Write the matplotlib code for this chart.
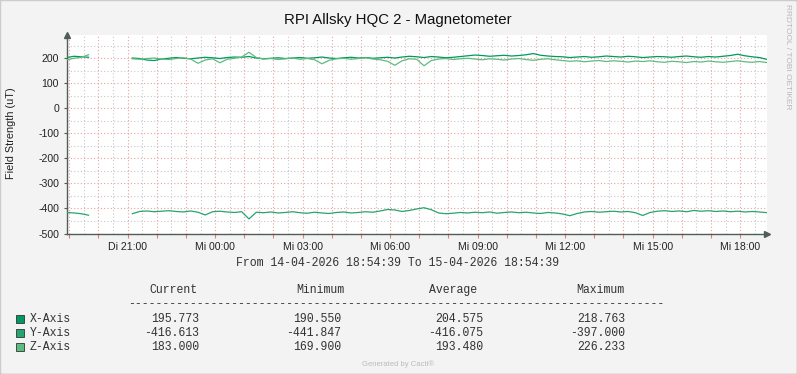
import matplotlib.pyplot as plt
import matplotlib.dates as mdates
import numpy as np
import pandas as pd
from matplotlib.patches import Rectangle
from matplotlib.lines import Line2D

# samples every 15 minutes from 14-04-2026 18:54:39, gap with no data 20:40 - 21:10
nan = np.nan
x_axis = [203, 208, 206, 204,
          nan, nan, nan, nan, nan,
          201, 199, 193, 191, 197, 200, 203, 200, 198, 201,
          204, 202, 199, 203, 205, 204, 207, 201, 198, 200,
          202, 199, 201, 203, 200, 202, 205, 201, 199, 202,
          204, 201, 203, 200, 202, 204, 201, 205, 208, 206,
          203, 207, 205, 202, 204, 207, 210, 213, 211, 208,
          210, 212, 209, 211, 214, 218.8, 212, 209, 207, 206,
          203, 205, 207, 204, 206, 209, 207, 205, 208, 206,
          203, 205, 207, 206, 204, 207, 209, 206, 204, 207,
          205, 208, 211, 216, 210, 206, 203, 195.8]
y_axis = [-416, -418, -421, -427,
          nan, nan, nan, nan, nan,
          -421, -412, -410, -413, -411, -409, -412, -414, -410, -415,
          -426, -413, -411, -414, -416, -413, -441.8, -415, -417, -414,
          -418, -416, -413, -417, -419, -415, -418, -420, -416, -414,
          -418, -416, -413, -415, -410, -404, -406, -412, -408, -402,
          -397, -405, -418, -421, -419, -416, -418, -415, -417, -414,
          -419, -416, -414, -417, -415, -418, -420, -416, -418, -422,
          -429, -420, -414, -412, -415, -413, -411, -414, -412, -417,
          -428, -416, -411, -409, -412, -410, -413, -408, -411, -409,
          -412, -410, -413, -411, -414, -412, -414, -416.6]
z_axis = [194, 200, 204, 214,
          nan, nan, nan, nan, nan,
          198, 196, 199, 201, 197, 195, 199, 202, 197, 180,
          193, 198, 182, 196, 200, 205, 224, 203, 197, 199,
          195, 198, 201, 196, 199, 194, 178, 192, 198, 200,
          196, 199, 202, 197, 194, 188, 172, 190, 198, 196,
          170, 191, 197, 199, 195, 198, 200, 197, 194, 198,
          196, 193, 197, 199, 195, 192, 196, 198, 194, 191,
          188, 190, 186, 189, 191, 187, 190, 188, 185, 189,
          187, 190, 186, 184, 188, 186, 183, 187, 185, 189,
          186, 184, 187, 190, 186, 184, 187, 183]

names = ["X-Axis", "Y-Axis", "Z-Axis"]
colors = ["#00995F", "#25A56F", "#5DBD80"]
current = ["195.773", "-416.613", "183.000"]
minimum = ["190.550", "-441.847", "169.900"]
average = ["204.575", "-416.075", "193.480"]
maximum = ["218.763", "-397.000", "226.233"]

start = pd.Timestamp("2026-04-14 18:54:39")
end = pd.Timestamp("2026-04-15 18:54:39")
times = pd.date_range(start, periods=len(x_axis), freq="15min")

W, H = 797, 374
plt.rcParams["axes.unicode_minus"] = False
fig = plt.figure(figsize=(W / 100, H / 100), dpi=100, facecolor="#F3F3F3")
ax = fig.add_axes([66.7 / W, 1 - 233.5 / H, 700 / W, 198.5 / H])
ax.set_facecolor("white")

for vals, c in zip([x_axis, y_axis, z_axis], colors):
    ax.plot(times, vals, color=c, lw=0.9, zorder=3)

ax.set_xlim(start, end)
ax.set_ylim(-500, 293)

days = ["Mo", "Di", "Mi", "Do", "Fr", "Sa", "So"]


def fmt_time(v, pos):
    d = mdates.num2date(v)
    if d.hour % 3:
        return ""
    return f"{days[d.weekday()]} {d:%H:%M}"


ax.xaxis.set_major_locator(mdates.HourLocator())
ax.xaxis.set_minor_locator(mdates.MinuteLocator(byminute=[30]))
ax.xaxis.set_major_formatter(plt.FuncFormatter(fmt_time))
ax.yaxis.set_major_locator(plt.MultipleLocator(100))
ax.yaxis.set_minor_locator(plt.MultipleLocator(50))

ax.grid(which="major", color="#EBA0A0", linestyle=(0, (1, 2)), lw=0.8)
ax.grid(which="minor", color="#C8C8C8", linestyle=(0, (1, 2)), lw=0.8)
ax.set_axisbelow(True)

for side in ["top", "right"]:
    ax.spines[side].set_visible(False)
for side in ["left", "bottom"]:
    ax.spines[side].set_color("#4F5F58")
    ax.spines[side].set_linewidth(1.0)

ax.tick_params(which="major", axis="x", length=3, color="#E08080", pad=3,
               labelsize=7.6, labelcolor="#222222")
ax.tick_params(which="minor", axis="x", length=0)
ax.tick_params(which="major", axis="y", length=2.5, color="#4F5F58", pad=3,
               labelsize=7.6, labelcolor="#222222")
ax.tick_params(which="minor", axis="y", length=0)
for lab in ax.get_xticklabels() + ax.get_yticklabels():
    lab.set_family("Liberation Sans")

# axis arrows
ax.plot(0, 1, marker="^", color="#4F5F58", ms=4, transform=ax.transAxes, clip_on=False)
ax.plot(1, 0, marker=">", color="#4F5F58", ms=4, transform=ax.transAxes, clip_on=False)

ax.set_ylabel("Field Strength (uT)", family="Liberation Sans", fontsize=7.8,
              color="#222222", va="center")
ax.yaxis.set_label_coords((11 - 66.7) / 700, (233.5 - 133) / 198.5)


def px(x, y):
    return x / W, 1 - y / H


fig.text(*px(398, 20), "RPI Allsky HQC 2 - Magnetometer", family="Liberation Sans",
         fontsize=10.8, ha="center", va="center", color="#111111")
fig.text(*px(788, 57), "RRDTOOL / TOBI OETIKER", family="Liberation Sans", fontsize=6.0,
         rotation=-90, ha="center", va="center", color="#B8B8B8")

mono = dict(family="Liberation Mono", fontsize=8.3, color="#333333", va="center")
fig.text(*px(398, 263), "From 14-04-2026 18:54:39 To 15-04-2026 18:54:39", ha="center", **mono)

headers = ["Current", "Minimum", "Average", "Maximum"]
cols_right = [199.5, 341, 483, 625.5]
head_right = [197, 344, 477, 624]
for h, xr in zip(headers, head_right):
    fig.text(*px(xr, 290), h, ha="right", **mono)
fig.text(*px(128, 304), "-" * 78, ha="left", **mono)

rows_y = [318.5, 332.5, 346.5]
for i, name in enumerate(names):
    y = rows_y[i]
    fig.patches.append(Rectangle(px(16, y + 4), 8 / W, 8 / H, transform=fig.transFigure,
                                 facecolor=colors[i], edgecolor="#333333", lw=0.6))
    fig.text(*px(30, y), name, ha="left", **mono)
    for vals, xr in zip([current, minimum, average, maximum], cols_right):
        fig.text(*px(xr, y), vals[i], ha="right", **mono)

fig.text(*px(398, 364), "Generated by Cacti®", family="Liberation Sans", fontsize=5.5,
         ha="center", va="center", color="#BBBBBB")

# outer frame
fig.lines.append(Line2D([0, 1], [0.9987, 0.9987], transform=fig.transFigure, color="#CCCCCC", lw=1))
fig.lines.append(Line2D([0.0006, 0.0006], [0, 1], transform=fig.transFigure, color="#CCCCCC", lw=1))
fig.lines.append(Line2D([0, 1], [0.0013, 0.0013], transform=fig.transFigure, color="#999999", lw=1))
fig.lines.append(Line2D([0.9994, 0.9994], [0, 1], transform=fig.transFigure, color="#999999", lw=1))

fig.savefig("out.png", dpi=100, facecolor=fig.get_facecolor())
